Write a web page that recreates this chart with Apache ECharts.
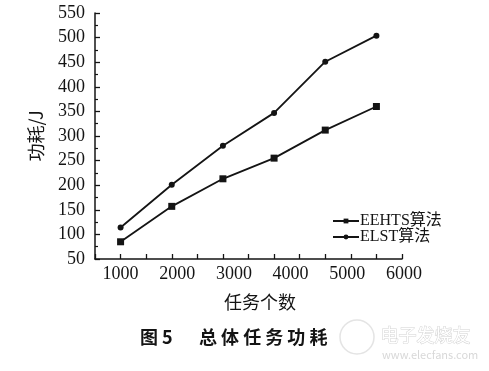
<!DOCTYPE html>
<html>
<head>
<meta charset="utf-8">
<script src="https://cdn.jsdelivr.net/npm/echarts@6/dist/echarts.min.js"></script>
<style>html,body{margin:0;padding:0;background:#fff}#c{width:489px;height:371px}</style>
</head>
<body>
<div id="c"></div>
<script>
var taskCounts = [1000, 2000, 3000, 4000, 5000, 6000];
var eehts = [85, 157, 213, 255, 312, 360];
var elst = [114, 201, 280, 347, 451, 504];
var seriesNames = ['EEHTS算法', 'ELST算法'];
var xTitle = '任务个数';
var yTitle = '功耗/J';
var captionFig = '图 5';
var captionText = '总体任务功耗';

function pairs(xs, ys) { return xs.map(function (x, i) { return [x, ys[i]]; }); }

var serif = '"Liberation Serif", "Times New Roman", serif';
var cjk = '"Noto Sans CJK SC", sans-serif';
var ink = '#141414';

// the printed tick labels drift slightly right of their ticks in the reference
var labelRich = {};
taskCounts.forEach(function (v, i) {
  labelRich['l' + i] = { fontFamily: serif, fontSize: 18, color: ink, padding: [0, 0, 0, i * 11] };
});

var chart = echarts.init(document.getElementById('c'));
chart.setOption({
  backgroundColor: '#fff',
  animation: false,
  grid: { left: 95, right: 87, top: 13, bottom: 112, containLabel: false },
  xAxis: {
    type: 'value', min: 500, max: 6500, interval: 500,
    axisLine: { lineStyle: { color: ink, width: 1.5 } },
    axisTick: { inside: true, length: 5, lineStyle: { color: ink, width: 1.3 } },
    splitLine: { show: false },
    axisLabel: {
      color: ink, fontFamily: serif, fontSize: 18, margin: 6, rich: labelRich,
      formatter: function (v) {
        var i = taskCounts.indexOf(v);
        return i < 0 ? '' : '{l' + i + '|' + v + '}';
      }
    },
    name: xTitle, nameLocation: 'middle', nameGap: 34,
    nameTextStyle: { color: ink, fontFamily: cjk, fontSize: 18, padding: [0, 0, 0, 23] }
  },
  yAxis: {
    type: 'value', min: 50, max: 550, interval: 50,
    axisLine: { show: true, lineStyle: { color: ink, width: 1.5 } },
    axisTick: { show: true, inside: true, length: 5, lineStyle: { color: ink, width: 1.3 } },
    minorTick: { show: true, splitNumber: 2, length: 3, lineStyle: { color: ink, width: 1.2 } },
    splitLine: { show: false },
    axisLabel: { color: ink, fontFamily: serif, fontSize: 18, margin: 10 },
    name: yTitle, nameLocation: 'middle', nameGap: 50,
    nameTextStyle: { color: ink, fontFamily: cjk, fontSize: 18 }
  },
  legend: {
    orient: 'vertical', left: 327, top: 208, itemGap: 0,
    itemWidth: 26, itemHeight: 6,
    textStyle: { color: ink, fontFamily: serif + ', ' + cjk, fontSize: 16, padding: [0, 0, 0, -4] },
    data: seriesNames
  },
  series: [
    { name: seriesNames[0], type: 'line', data: pairs(taskCounts, eehts),
      symbol: 'rect', symbolSize: 7, lineStyle: { color: ink, width: 1.8 },
      itemStyle: { color: ink } },
    { name: seriesNames[1], type: 'line', data: pairs(taskCounts, elst),
      symbol: 'circle', symbolSize: 6, lineStyle: { color: ink, width: 1.8 },
      itemStyle: { color: ink } }
  ],
  graphic: [
    { type: 'text', left: 140, top: 328,
      style: { text: captionFig, fontFamily: cjk, fontSize: 18, fontWeight: 'bold', fill: ink } },
    { type: 'text', left: 199, top: 328,
      style: { text: captionText.split('').join(' '), fontFamily: cjk, fontSize: 18, fontWeight: 'bold', fill: ink } },
    { type: 'circle', shape: { cx: 357, cy: 337, r: 17 }, style: { fill: 'none', stroke: '#e4e4e4', lineWidth: 1.5 } },
    { type: 'text', left: 380, top: 326,
      style: { text: '电子发烧友', fontFamily: cjk, fontSize: 18, fill: '#fff', stroke: '#d4d4d4', lineWidth: 1 } },
    { type: 'text', left: 382, top: 349,
      style: { text: 'www.elecfans.com', fontFamily: cjk, fontSize: 11, fill: '#d8d8d8' } }
  ]
});
</script>
</body>
</html>
